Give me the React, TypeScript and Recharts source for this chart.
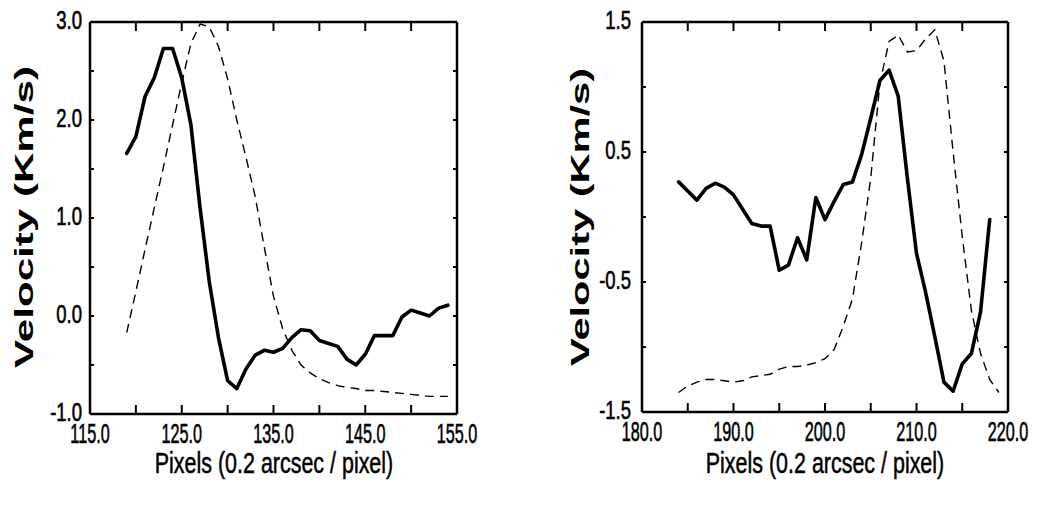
import React from 'react';
import { LineChart, Line, XAxis, YAxis } from 'recharts';

// ── left panel ─────────────────────────────────────────────────────────────
const leftPixels = [
  119, 120, 121, 122, 123, 124, 125, 126, 127, 128, 129, 130, 131, 132, 133, 134, 135, 136,
  137, 138, 139, 140, 141, 142, 143, 144, 145, 146, 147, 148, 149, 150, 151, 152, 153, 154,
];
const leftVelocity = [
  1.66, 1.83, 2.24, 2.43, 2.73, 2.73, 2.43, 1.95, 1.1, 0.35, -0.22, -0.66, -0.74, -0.54, -0.4, -0.35, -0.37, -0.33,
  -0.22, -0.14, -0.15, -0.25, -0.28, -0.31, -0.44, -0.5, -0.39, -0.2, -0.2, -0.2, -0.01, 0.06, 0.03, 0.0, 0.08, 0.11,
];
const leftProfile = [
  -0.17, 0.25, 0.68, 1.1, 1.52, 1.95, 2.38, 2.78, 2.98, 2.95, 2.75, 2.42, 2.0, 1.62, 1.22, 0.7, 0.2, -0.13,
  -0.35, -0.5, -0.58, -0.64, -0.68, -0.71, -0.73, -0.74, -0.76, -0.76, -0.77, -0.78, -0.79, -0.8, -0.81, -0.82, -0.82, -0.82,
];
const leftXTicks = [115, 120, 125, 130, 135, 140, 145, 150, 155];
const leftXLabels = [115, 125, 135, 145, 155];
const leftYTicks = [-1, -0.5, 0, 0.5, 1, 1.5, 2, 2.5, 3];
const leftYLabels = [-1, 0, 1, 2, 3];

// ── right panel ────────────────────────────────────────────────────────────
const rightPixels = [
  184, 185, 186, 187, 188, 189, 190, 191, 192, 193, 194, 195, 196, 197, 198, 199, 200, 201,
  202, 203, 204, 205, 206, 207, 208, 209, 210, 211, 212, 213, 214, 215, 216, 217, 218,
];
const rightVelocity = [
  0.27, 0.2, 0.13, 0.22, 0.26, 0.23, 0.17, 0.06, -0.05, -0.07, -0.07, -0.41, -0.37, -0.16, -0.33, 0.15, -0.02, 0.12,
  0.25, 0.27, 0.48, 0.76, 1.05, 1.13, 0.93, 0.3, -0.28, -0.58, -0.92, -1.27, -1.34, -1.13, -1.05, -0.73, -0.02,
];
const rightProfilePixels = [
  184, 185, 186, 187, 188, 189, 190, 191, 192, 193, 194, 195, 196, 197, 198, 199, 200, 201,
  202, 203, 204, 205, 206, 207, 208, 209, 210, 211, 212, 213, 214, 215, 216, 217, 218, 219,
];
const rightProfile = [
  -1.35, -1.3, -1.27, -1.25, -1.25, -1.26, -1.27, -1.26, -1.23, -1.22, -1.21, -1.17, -1.15, -1.15, -1.14, -1.12, -1.09, -1.02,
  -0.84, -0.63, -0.2, 0.3, 1.03, 1.35, 1.4, 1.27, 1.28, 1.37, 1.44, 1.2, 0.5, -0.15, -0.72, -1.05, -1.25, -1.35,
];
const rightXTicks = [180, 185, 190, 195, 200, 205, 210, 215, 220];
const rightXLabels = [180, 190, 200, 210, 220];
const rightYTicks = [-1.5, -1, -0.5, 0, 0.5, 1, 1.5];
const rightYLabels = [-1.5, -0.5, 0.5, 1.5];

const yTitle = 'Velocity (Km/s)';
const xTitle = 'Pixels (0.2 arcsec / pixel)';

const FONT = '"Liberation Sans", Arial, Helvetica, sans-serif';
const INK = '#000';

const toRows = (xs: number[], ys: number[]) => xs.map((x, i) => ({ x, v: ys[i] }));

// ── tick renderers (tick mark drawn inward + condensed label) ─────────────

function BottomTick(props: any) {
  const { x, y, payload, labels } = props;
  const show = labels.includes(payload.value);
  return (
    <g>
      <line x1={x} x2={x} y1={y} y2={y - 9} stroke={INK} strokeWidth={2} />
      {show && (
        <text
          transform={`translate(${x},${y + 19}) scale(0.6,1)`}
          textAnchor="middle"
          dy="0.36em"
          fontSize={27}
          fontFamily={FONT}
          fill={INK}
          stroke={INK}
          strokeWidth={0.6}
        >
          {payload.value.toFixed(1)}
        </text>
      )}
    </g>
  );
}

function TopTick(props: any) {
  const { x, y } = props;
  return <line x1={x} x2={x} y1={y} y2={y + 9} stroke={INK} strokeWidth={2} />;
}

function LeftTick(props: any) {
  const { x, y, payload, labels, gap } = props;
  const show = labels.includes(payload.value);
  return (
    <g>
      <line x1={x} x2={x + 4} y1={y} y2={y} stroke={INK} strokeWidth={2} />
      {show && (
        <text
          transform={`translate(${x - gap},${y - 2}) scale(0.74,1)`}
          textAnchor="end"
          dy="0.36em"
          fontSize={25}
          fontFamily={FONT}
          fill={INK}
          stroke={INK}
          strokeWidth={0.6}
        >
          {payload.value.toFixed(1)}
        </text>
      )}
    </g>
  );
}

function RightTick(props: any) {
  const { x, y } = props;
  return <line x1={x} x2={x - 4} y1={y} y2={y} stroke={INK} strokeWidth={2} />;
}

interface PanelProps {
  left: number;
  width: number;
  margin: { top: number; right: number; bottom: number; left: number };
  xDomain: [number, number];
  yDomain: [number, number];
  xTicks: number[];
  xLabels: number[];
  yTicks: number[];
  yLabels: number[];
  labelGap: number;
  velocity: { x: number; v: number }[];
  profile: { x: number; v: number }[];
}

function Panel(p: PanelProps) {
  const axisLine = { stroke: INK, strokeWidth: 2.5 };
  return (
    <div style={{ position: 'absolute', left: p.left, top: 0 }}>
      <LineChart width={p.width} height={510} margin={p.margin}>
        <XAxis
          xAxisId="b"
          dataKey="x"
          type="number"
          domain={p.xDomain}
          ticks={p.xTicks}
          interval={0}
          height={60}
          tickSize={0}
          tickMargin={0}
          tickLine={false}
          axisLine={axisLine}
          tick={(t: any) => <BottomTick {...t} labels={p.xLabels} />}
          allowDataOverflow
        />
        <XAxis
          xAxisId="t"
          orientation="top"
          dataKey="x"
          type="number"
          domain={p.xDomain}
          ticks={p.xTicks}
          interval={0}
          height={1}
          tickSize={0}
          tickMargin={0}
          tickLine={false}
          axisLine={axisLine}
          tick={(t: any) => <TopTick {...t} />}
          allowDataOverflow
        />
        <YAxis
          yAxisId="l"
          type="number"
          domain={p.yDomain}
          ticks={p.yTicks}
          interval={0}
          width={60}
          tickSize={0}
          tickMargin={0}
          tickLine={false}
          axisLine={axisLine}
          tick={(t: any) => <LeftTick {...t} labels={p.yLabels} gap={p.labelGap} />}
          allowDataOverflow
        />
        <YAxis
          yAxisId="r"
          orientation="right"
          type="number"
          domain={p.yDomain}
          ticks={p.yTicks}
          interval={0}
          width={1}
          tickSize={0}
          tickMargin={0}
          tickLine={false}
          axisLine={axisLine}
          tick={(t: any) => <RightTick {...t} />}
          allowDataOverflow
        />
        <Line
          xAxisId="b"
          yAxisId="l"
          data={p.profile}
          dataKey="v"
          type="linear"
          stroke={INK}
          strokeWidth={1.4}
          strokeDasharray="9 6"
          dot={false}
          isAnimationActive={false}
        />
        <Line
          xAxisId="b"
          yAxisId="l"
          data={p.velocity}
          dataKey="v"
          type="linear"
          stroke={INK}
          strokeWidth={3.6}
          strokeLinejoin="round"
          strokeLinecap="round"
          dot={false}
          isAnimationActive={false}
        />
      </LineChart>
    </div>
  );
}

export default function App() {
  return (
    <div style={{ position: 'absolute', left: 0, top: 0, width: 1037, height: 510, background: '#fff' }}>
      <Panel
        left={0}
        width={520}
        margin={{ top: 21, right: 62, bottom: 36, left: 30 }}
        xDomain={[115, 155]}
        yDomain={[-1, 3]}
        xTicks={leftXTicks}
        xLabels={leftXLabels}
        yTicks={leftYTicks}
        yLabels={leftYLabels}
        labelGap={8}
        velocity={toRows(leftPixels, leftVelocity)}
        profile={toRows(leftPixels, leftProfile)}
      />
      <Panel
        left={520}
        width={517}
        margin={{ top: 21, right: 28, bottom: 38, left: 62 }}
        xDomain={[180, 220]}
        yDomain={[-1.5, 1.5]}
        xTicks={rightXTicks}
        xLabels={rightXLabels}
        yTicks={rightYTicks}
        yLabels={rightYLabels}
        labelGap={11}
        velocity={toRows(rightPixels, rightVelocity)}
        profile={toRows(rightProfilePixels, rightProfile)}
      />
      {/* axis titles */}
      <svg
        width={1037}
        height={510}
        style={{ position: 'absolute', left: 0, top: 0, pointerEvents: 'none' }}
      >
        <text
          transform="translate(33,217) rotate(-90)"
          textAnchor="middle"
          fontSize={25}
          fontWeight="bold"
          fontFamily={FONT}
          textLength={302}
          lengthAdjust="spacingAndGlyphs"
          fill={INK}
        >
          {yTitle}
        </text>
        <text
          transform="translate(589,217) rotate(-90)"
          textAnchor="middle"
          fontSize={25}
          fontWeight="bold"
          fontFamily={FONT}
          textLength={298}
          lengthAdjust="spacingAndGlyphs"
          fill={INK}
        >
          {yTitle}
        </text>
        <text
          transform="translate(274,473) scale(0.74,1)"
          textAnchor="middle"
          fontSize={29}
          fontFamily={FONT}
          fill={INK}
          stroke={INK}
          strokeWidth={0.5}
        >
          {xTitle}
        </text>
        <text
          transform="translate(825,473) scale(0.74,1)"
          textAnchor="middle"
          fontSize={29}
          fontFamily={FONT}
          fill={INK}
          stroke={INK}
          strokeWidth={0.5}
        >
          {xTitle}
        </text>
      </svg>
    </div>
  );
}
